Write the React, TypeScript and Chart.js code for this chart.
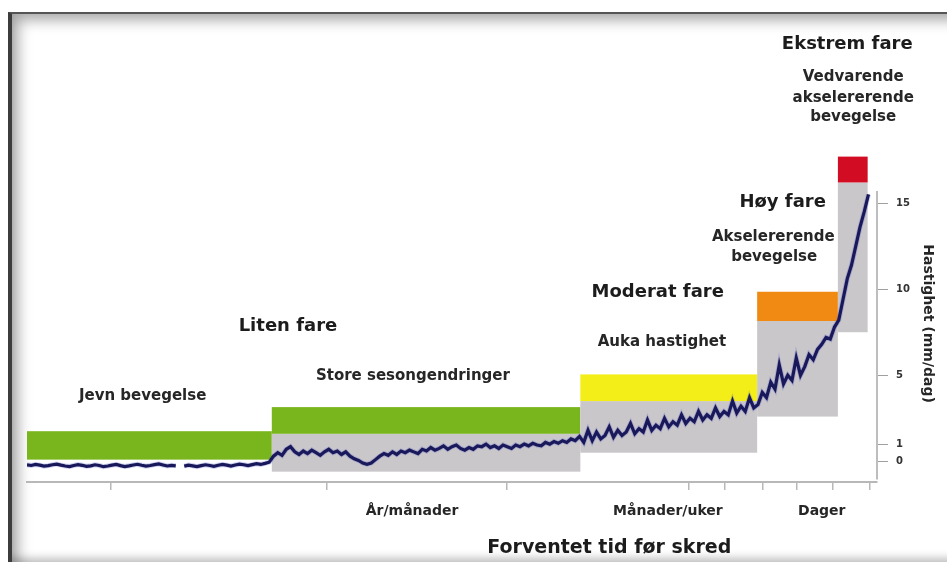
import React, { useEffect, useRef } from "react";
import { Chart, registerables } from "chart.js";

Chart.register(...registerables);

// Velocity time series (mm/dag), sampled every 0.5 time units from t = 0
const velocity: (number | null)[] = [
  // steady movement
  -0.2, -0.24, -0.18, -0.22, -0.28, -0.25, -0.2, -0.16, -0.22, -0.27,
  -0.3, -0.24, -0.19, -0.23, -0.29, -0.26, -0.2, -0.24, -0.31, -0.27,
  -0.22, -0.18, -0.25, -0.3, -0.26, -0.21, -0.17, -0.23, -0.28, -0.24,
  -0.19, -0.15, -0.21, -0.27, -0.23, -0.26, null, -0.28, -0.22, -0.26,
  -0.31, -0.25, -0.2, -0.24, -0.29, -0.23, -0.18, -0.22, -0.27, -0.21,
  -0.16, -0.2, -0.25, -0.19, -0.14, -0.18, -0.12, -0.05,
  // seasonal changes
  0.3, 0.5, 0.35, 0.7, 0.85, 0.55, 0.4, 0.6, 0.45, 0.65,
  0.5, 0.35, 0.55, 0.7, 0.5, 0.6, 0.4, 0.55, 0.3, 0.15,
  0.05, -0.1, -0.17, -0.1, 0.1, 0.3, 0.45, 0.35, 0.55, 0.4,
  0.6, 0.5, 0.65, 0.55, 0.45, 0.7, 0.6, 0.8, 0.65, 0.75,
  0.9, 0.7, 0.85, 0.95, 0.75, 0.65, 0.8, 0.7, 0.9, 0.85,
  1.0, 0.8, 0.9, 0.75, 0.95, 0.85, 0.75, 0.95, 0.85, 1.0,
  0.9, 1.05, 0.95, 0.9, 1.1, 1.0, 1.15, 1.05, 1.2, 1.1,
  1.3, 1.2, 1.45,
  // increased velocity
  1.1, 1.8, 1.2, 1.7, 1.3, 1.5, 2.0, 1.4, 1.8, 1.5,
  1.7, 2.2, 1.6, 1.9, 1.7, 2.4, 1.8, 2.1, 1.9, 2.5,
  2.0, 2.3, 2.1, 2.7, 2.2, 2.5, 2.3, 2.9, 2.4, 2.7,
  2.5, 3.1, 2.6, 2.9, 2.7, 3.5, 2.8, 3.2, 2.9, 3.7,
  3.1,
  // accelerating movement
  3.3, 4.0, 3.7, 4.6, 4.2, 5.6, 4.5, 5.0, 4.7, 6.0,
  5.0, 5.5, 6.2, 5.9, 6.5, 6.8, 7.2, 7.1, 7.8,
  // sustained acceleration
  8.2, 9.4, 10.6, 11.4, 12.5, 13.6, 14.5, 15.5,
];
const sampleStep = 0.5;

// Hazard zones (time units on x, mm/dag on y)
const zoneStart = [0, 28.8, 65.1, 85.9, 95.4];
const zoneEnd = [28.8, 65.1, 85.9, 95.4, 98.9];
const hazardLow = [0.1, 1.6, 3.5, 8.15, 16.2];
const hazardHigh = [1.75, 3.15, 5.05, 9.85, 17.7];
const hazardColors = ["#79b51c", "#79b51c", "#f4ee18", "#f08a12", "#d20c22"];
const rangeLow: (number | null)[] = [null, -0.6, 0.5, 2.6, 7.5];
const rangeHigh: (number | null)[] = [null, 1.6, 3.5, 8.15, 16.2];

const yTickValues = [0, 1, 5, 10, 15];
const xTickValues = [9.8, 35.3, 56.5, 77.8, 82.1, 86.5, 90.6, 94.8, 99.1];

const dangerTitles = ["Liten fare", "Moderat fare", "Høy fare", "Ekstrem fare"];
const dangerTitleX = [30.7, 74.2, 88.9, 96.5];
const dangerTitleY = [7.85, 9.83, 15.06, 24.24];

const descLines = [
  "Jevn bevegelse",
  "Store sesongendringer",
  "Auka hastighet",
  "Akselererende",
  "bevegelse",
  "Vedvarende",
  "akselererende",
  "bevegelse",
];
const descX = [13.6, 45.4, 74.7, 87.8, 87.9, 97.2, 97.2, 97.2];
const descY = [3.78, 4.94, 6.92, 13.02, 11.86, 22.33, 21.1, 20.0];

const periodLabels = ["År/månader", "Månader/uker", "Dager"];
const periodX = [45.3, 75.4, 93.5];

const xTitle = "Forventet tid før skred";
const xTitleX = 68.5;
const yTitle = "Hastighet (mm/dag)";
const yAxisLineFrom = -1.05;
const yAxisLineTo = 15.7;

const FONT = "'DejaVu Sans', sans-serif";

const zonesPlugin = {
  id: "zones",
  beforeDatasetsDraw(chart: any) {
    const { ctx, scales } = chart;
    const x = scales.x;
    const y = scales.y;
    ctx.save();
    for (let i = 0; i < zoneStart.length; i++) {
      const x0 = x.getPixelForValue(zoneStart[i]);
      const x1 = x.getPixelForValue(zoneEnd[i]);
      if (rangeLow[i] !== null && rangeHigh[i] !== null) {
        const ya = y.getPixelForValue(rangeHigh[i]);
        const yb = y.getPixelForValue(rangeLow[i]);
        ctx.fillStyle = "#cac7cb";
        ctx.fillRect(x0, ya, x1 - x0, yb - ya);
      }
      const ha = y.getPixelForValue(hazardHigh[i]);
      const hb = y.getPixelForValue(hazardLow[i]);
      ctx.fillStyle = hazardColors[i];
      ctx.fillRect(x0, ha, x1 - x0, hb - ha);
    }
    ctx.restore();
  },
  afterDraw(chart: any) {
    const { ctx, scales, chartArea } = chart;
    const x = scales.x;
    const y = scales.y;
    ctx.save();
    // y axis line
    ctx.strokeStyle = "#bdbdbd";
    ctx.lineWidth = 2;
    ctx.beginPath();
    ctx.moveTo(chartArea.right, y.getPixelForValue(yAxisLineTo));
    ctx.lineTo(chartArea.right, y.getPixelForValue(yAxisLineFrom));
    ctx.stroke();

    ctx.textAlign = "center";
    ctx.textBaseline = "middle";
    ctx.fillStyle = "#1c1c1c";
    ctx.font = `bold 18px ${FONT}`;
    for (let i = 0; i < dangerTitles.length; i++) {
      ctx.fillText(dangerTitles[i], x.getPixelForValue(dangerTitleX[i]), y.getPixelForValue(dangerTitleY[i]));
    }
    ctx.fillStyle = "#262626";
    ctx.font = `bold 15px ${FONT}`;
    for (let i = 0; i < descLines.length; i++) {
      ctx.fillText(descLines[i], x.getPixelForValue(descX[i]), y.getPixelForValue(descY[i]));
    }
    ctx.font = `bold 14px ${FONT}`;
    for (let i = 0; i < periodLabels.length; i++) {
      ctx.fillText(periodLabels[i], x.getPixelForValue(periodX[i]), chartArea.bottom + 29);
    }
    ctx.fillStyle = "#1c1c1c";
    ctx.font = `bold 19px ${FONT}`;
    ctx.fillText(xTitle, x.getPixelForValue(xTitleX), chartArea.bottom + 66);

    ctx.translate(chartArea.right + 51, y.getPixelForValue(8.0));
    ctx.rotate(Math.PI / 2);
    ctx.fillStyle = "#262626";
    ctx.font = `bold 14px ${FONT}`;
    ctx.fillText(yTitle, 0, 0);
    ctx.restore();
  },
};

export default function App() {
  const ref = useRef<HTMLCanvasElement | null>(null);

  useEffect(() => {
    if (!ref.current) return;
    const points = velocity.map((v, i) => ({ x: i * sampleStep, y: v }));
    const chart = new Chart(ref.current, {
      type: "line",
      data: {
        datasets: [
          {
            data: points as any,
            borderColor: "#19185a",
            borderWidth: 3.2,
            pointRadius: 0,
            tension: 0,
            spanGaps: false,
            order: 1,
          },
          {
            data: points as any,
            borderColor: "rgba(70,80,200,0.25)",
            borderWidth: 5,
            pointRadius: 0,
            tension: 0,
            spanGaps: false,
            order: 2,
          },
        ],
      },
      options: {
        animation: false,
        responsive: false,
        maintainAspectRatio: false,
        layout: { padding: { left: 27, top: 148, right: 0, bottom: 0 } },
        plugins: { legend: { display: false }, tooltip: { enabled: false } },
        scales: {
          x: {
            type: "linear",
            min: 0,
            max: 100,
            afterBuildTicks: (s: any) => {
              s.ticks = xTickValues.map((v) => ({ value: v }));
            },
            afterFit: (s: any) => {
              s.height = 82;
            },
            ticks: { display: false },
            grid: {
              drawOnChartArea: false,
              drawTicks: true,
              tickLength: 8,
              color: "#b8b8b8",
              lineWidth: 1.5,
            },
            border: { display: true, color: "#b8b8b8", width: 2 },
          },
          y: {
            type: "linear",
            position: "right",
            min: -1.2,
            max: 18.2,
            afterBuildTicks: (s: any) => {
              s.ticks = yTickValues.map((v) => ({ value: v }));
            },
            afterFit: (s: any) => {
              s.width = 70;
            },
            ticks: {
              font: { family: FONT, weight: "bold", size: 10 },
              color: "#333",
              padding: 8,
            },
            grid: {
              drawOnChartArea: false,
              drawTicks: true,
              tickLength: 11,
              color: "#a0a0a0",
              lineWidth: 1,
            },
            border: { display: false },
          },
        },
      },
      plugins: [zonesPlugin],
    });
    return () => chart.destroy();
  }, []);

  return (
    <div
      style={{
        position: "fixed",
        left: 0,
        top: 0,
        width: 947,
        height: 564,
        background: "#ffffff",
        overflow: "hidden",
      }}
    >
      <div
        style={{
          position: "absolute",
          left: 8,
          top: 12,
          width: 960,
          height: 548,
          borderLeft: "4px solid #3c3c3c",
          borderTop: "2px solid #555",
          boxShadow:
            "inset 10px 10px 14px -4px rgba(0,0,0,0.35), inset 0 -8px 8px -4px rgba(0,0,0,0.25)",
        }}
      />
      <canvas
        ref={ref}
        width={947}
        height={564}
        style={{ position: "absolute", left: 0, top: 0, display: "block" }}
      />
    </div>
  );
}
